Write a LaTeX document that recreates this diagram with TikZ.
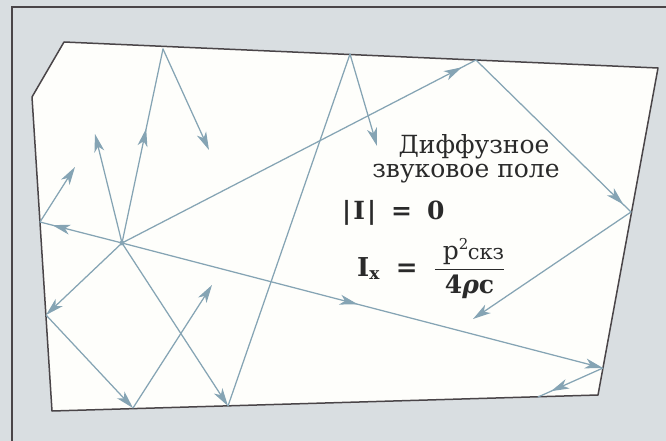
\documentclass[tikz,border=0pt]{standalone}
\usepackage{fontspec}
\setmainfont{DejaVu Serif}
\usetikzlibrary{arrows.meta,decorations.markings}
\definecolor{bgc}{HTML}{D9DEE1}
\definecolor{framec}{HTML}{4A4548}
\definecolor{rayc}{HTML}{85A4B4}
\definecolor{paperc}{HTML}{FEFEFB}
\definecolor{textc}{HTML}{2A2A2A}
\tikzset{
  ray/.style={color=rayc, line width=1.25pt, line cap=round},
  tipend/.style={-{Stealth[length=18pt,width=10pt,inset=5pt]}},
  arrowat/.style={postaction={decorate},
    decoration={markings,mark=at position #1 with {\arrow{Stealth[length=18pt,width=10pt,inset=5pt]}}}},
  lbl/.style={inner sep=0pt, anchor=base, text=textc},
  wall/.style={draw=framec, line width=1.5pt, line join=round}
}
\begin{document}
\begin{tikzpicture}[x=1pt,y=-1pt]
\useasboundingbox (0,0) rectangle (666,441);
\fill[bgc] (0,0) rectangle (666,441);
% outer frame
\coordinate (F1) at (666,7);
\coordinate (F2) at (12,7);
\coordinate (F3) at (12,441);
\draw[framec, line width=1.3pt] (F1) -- (F2) -- (F3);
% room
\coordinate (P1) at (64,42);
\coordinate (P2) at (32,97);
\coordinate (P3) at (52,411);
\coordinate (P4) at (598,395);
\coordinate (P5) at (658,68);
\filldraw[fill=paperc, wall] (P1) -- (P2) -- (P3) -- (P4) -- (P5) -- cycle;
% points
\coordinate (S)  at (122,243);
\coordinate (A1) at (95,134);
\coordinate (T1) at (163,49);
\coordinate (A2) at (209,150);
\coordinate (L1) at (46,315);
\coordinate (B1) at (133,408);
\coordinate (A3) at (212,285);
\coordinate (B2) at (228,406);
\coordinate (T2) at (350,54);
\coordinate (A4) at (377,146);
\coordinate (T3) at (476,60);
\coordinate (R1) at (631,212);
\coordinate (A5) at (473,319);
\coordinate (L2) at (40,222);
\coordinate (A6) at (75,167);
\coordinate (R2) at (603,368);
\coordinate (A7) at (538,397);
% rays
\draw[ray, tipend] (S) -- (A1);
\draw[ray, arrowat=0.59] (S) -- (T1);
\draw[ray, tipend] (T1) -- (A2);
\draw[ray, tipend] (S) -- (L1);
\draw[ray, tipend] (L1) -- (B1);
\draw[ray, tipend] (B1) -- (A3);
\draw[ray, tipend] (S) -- (B2);
\draw[ray] (B2) -- (T2);
\draw[ray, tipend] (T2) -- (A4);
\draw[ray, arrowat=0.96] (S) -- (T3);
\draw[ray, arrowat=0.95] (T3) -- (R1);
\draw[ray, tipend] (R1) -- (A5);
\draw[ray, arrowat=0.85] (S) -- (L2);
\draw[ray, tipend] (L2) -- (A6);
\draw[ray, arrowat=0.49, tipend] (S) -- (R2);
\draw[ray, arrowat=0.8] (R2) -- (A7);
\fill[rayc] (S) circle (2.4pt);
% texts
\node[lbl] (t1) at (474,153) {\fontsize{25}{28}\selectfont Диффузное};
\node[lbl] (t2) at (466,177) {\fontsize{25}{28}\selectfont звуковое поле};
\node[lbl, anchor=base west] (f1) at (342,219) {\fontsize{25}{28}\selectfont\bfseries |\kern2pt I\kern2pt|\hspace{15pt}=\hspace{15pt}0};
\node[lbl, anchor=base west] (f2) at (357,276) {\fontsize{26}{28}\selectfont
  $\hbox{\bfseries I}_{\hbox{\fontsize{17}{17}\selectfont\bfseries x}}
  \mathrel{\hbox{\hspace{9pt}\bfseries =\hspace{9pt}}}
  \displaystyle{\hbox{\hspace{8pt}\fontsize{25}{25}\selectfont p\raisebox{10pt}{\fontsize{15}{15}\selectfont 2}\kern-0.5pt{\fontsize{21}{21}\selectfont скз}} \above 1.3pt \hbox{\fontsize{25}{25}\selectfont\bfseries 4\itshape ρ\upshape c}}$};
\end{tikzpicture}
\end{document}
